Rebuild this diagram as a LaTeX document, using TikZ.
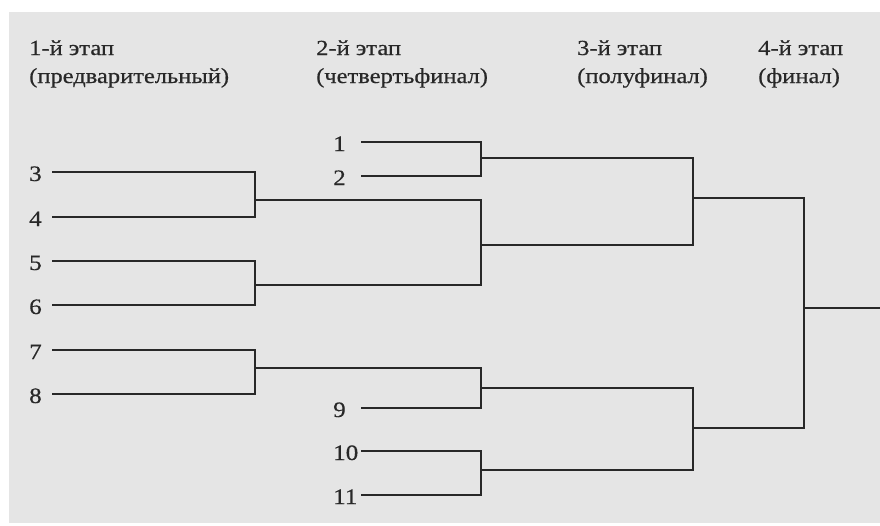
\documentclass[tikz,border=0pt]{standalone}
\usepackage{fontspec}
\setmainfont{Liberation Serif}[FakeStretch=1.14,FakeBold=0.5]
\definecolor{paper}{RGB}{229,229,229}
\definecolor{ink}{RGB}{40,40,40}
\begin{document}
\begin{tikzpicture}
    [   x=1pt,y=-1pt,
        bline/.style={draw=ink,line width=1.6pt},
        seed/.style={anchor=base west,inner sep=0pt,text=ink,font=\fontsize{22}{28}\selectfont},
        stage/.style={anchor=base west,inner sep=0pt,align=left,text=ink,font=\fontsize{21.5}{28}\selectfont},
    ]
        \useasboundingbox (0,0) rectangle (880,525);
        \fill[white] (0,0) rectangle (880,525);
        \fill[paper] (9,12) rectangle (880,523);
        % stage headings
        \node[stage] (st1) at (29,83) {1-й этап\\(предварительный)};
        \node[stage] (st2) at (316,83) {2-й этап\\(четвертьфинал)};
        \node[stage] (st3) at (577,83) {3-й этап\\(полуфинал)};
        \node[stage] (st4) at (758,83) {4-й этап\\(финал)};
        % participants
        \foreach \n/\y in {3/172,4/217,5/261,6/305,7/350,8/394}
        {   \node[seed] (n\n) at (29,\y+9) {\n};
            \coordinate (s\n) at (52,\y);
        }
        \foreach \n/\y in {1/142,2/176,9/408,10/451,11/495}
        {   \node[seed] (n\n) at (333,\y+9) {\n};
            \coordinate (s\n) at (361,\y);
        }
        % junctions (x of the bracket, y of its output)
        \coordinate (m34) at (255,200);
        \coordinate (m56) at (255,285);
        \coordinate (m78) at (255,368);
        \coordinate (m12) at (481,158);
        \coordinate (q36) at (481,245);
        \coordinate (q79) at (481,388);
        \coordinate (m1011) at (481,470);
        \coordinate (h1) at (693,198);
        \coordinate (h2) at (693,428);
        \coordinate (fin) at (804,308);
        \coordinate (win) at (880,308);
        \foreach \m/\a/\b in {m34/s3/s4,m56/s5/s6,m78/s7/s8,m12/s1/s2,q36/m34/m56,
                              q79/m78/s9,m1011/s10/s11,h1/m12/q36,h2/q79/m1011,fin/h1/h2}
        {   \draw[bline] (\a) -| (\m) |- (\b);
        }
        \draw[bline] (fin) -- (win);
  \end{tikzpicture}
\end{document}
